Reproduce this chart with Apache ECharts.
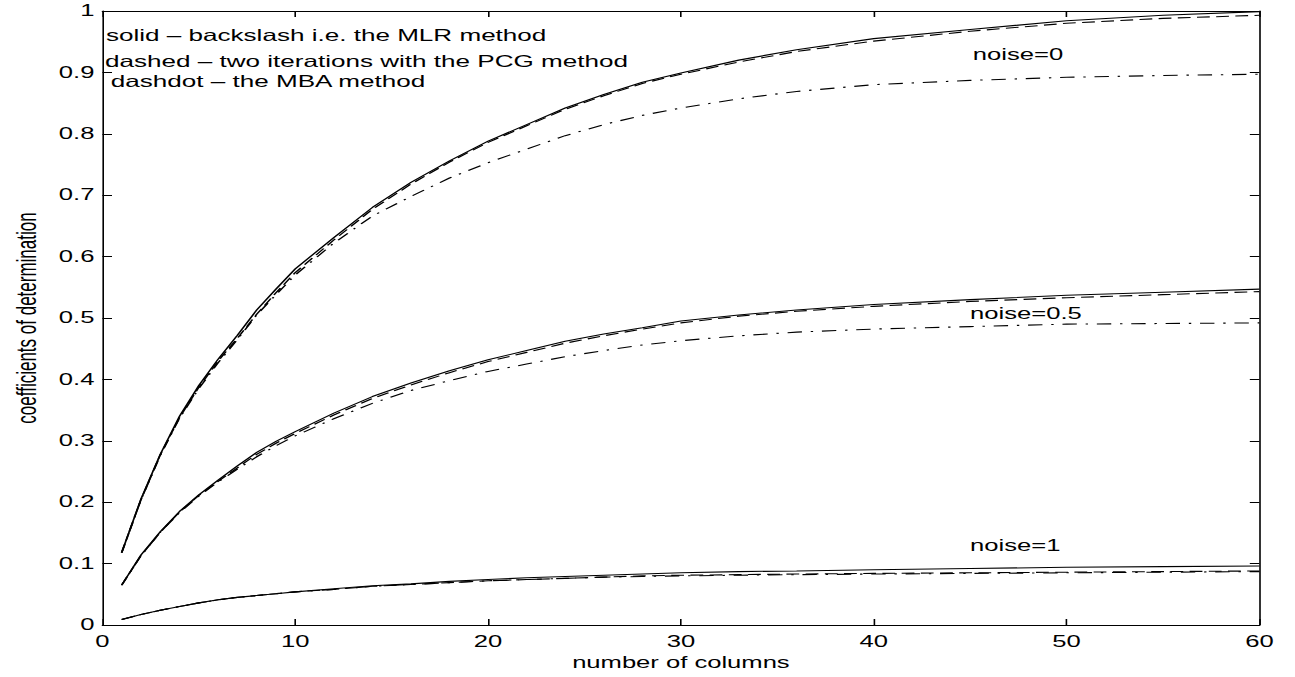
<!DOCTYPE html>
<html>
<head>
<meta charset="utf-8">
<script src="https://cdn.jsdelivr.net/npm/echarts@6/dist/echarts.min.js"></script>
<style>
  html, body { margin:0; padding:0; background:#fff; }
  #wrap { width:1295px; height:677px; overflow:hidden; position:relative; background:#fff; }
  #chart { width:809.375px; height:677px; transform:scaleX(1.6); transform-origin:0 0; }
</style>
</head>
<body>
<div id="wrap"><div id="chart"></div></div>
<script>
// ---- data (number of columns) ----
const columns = [1,2,3,4,5,6,7,8,9,10,12,14,16,18,20,22,24,26,28,30,33,36,40,45,50,55,60];

// noise = 0
const solidNoise0   = [0.118,0.205,0.278,0.340,0.390,0.433,0.472,0.513,0.547,0.580,0.631,0.680,0.721,0.756,0.788,0.815,0.842,0.864,0.884,0.899,0.920,0.937,0.955,0.970,0.984,0.993,0.999];
const dashedNoise0  = [0.118,0.204,0.277,0.338,0.387,0.430,0.467,0.506,0.541,0.574,0.627,0.677,0.718,0.754,0.786,0.813,0.840,0.862,0.882,0.897,0.917,0.934,0.951,0.967,0.980,0.988,0.993];
const dashdotNoise0 = [0.118,0.204,0.276,0.337,0.385,0.427,0.465,0.505,0.538,0.570,0.622,0.666,0.698,0.728,0.753,0.775,0.797,0.815,0.830,0.842,0.857,0.869,0.880,0.887,0.892,0.895,0.897];

// noise = 0.5
const solidNoise05   = [0.065,0.114,0.152,0.185,0.212,0.236,0.259,0.281,0.299,0.315,0.345,0.372,0.394,0.414,0.432,0.447,0.462,0.474,0.484,0.495,0.505,0.513,0.522,0.530,0.537,0.542,0.547];
const dashedNoise05  = [0.065,0.113,0.151,0.184,0.211,0.234,0.256,0.278,0.296,0.312,0.342,0.369,0.391,0.411,0.429,0.444,0.459,0.471,0.482,0.492,0.503,0.511,0.519,0.527,0.533,0.538,0.543];
const dashdotNoise05 = [0.065,0.113,0.151,0.183,0.210,0.233,0.254,0.274,0.292,0.308,0.336,0.361,0.382,0.398,0.413,0.425,0.437,0.447,0.456,0.463,0.471,0.477,0.482,0.486,0.490,0.491,0.492];

// noise = 1
const solidNoise1   = [0.009,0.017,0.024,0.030,0.036,0.041,0.045,0.048,0.051,0.054,0.059,0.064,0.067,0.071,0.074,0.077,0.079,0.081,0.083,0.085,0.087,0.088,0.090,0.092,0.094,0.095,0.096];
const dashedNoise1  = [0.009,0.017,0.024,0.030,0.036,0.041,0.045,0.048,0.051,0.054,0.058,0.063,0.066,0.069,0.072,0.074,0.076,0.078,0.080,0.081,0.082,0.083,0.084,0.085,0.086,0.087,0.088];
const dashdotNoise1 = [0.009,0.017,0.024,0.030,0.036,0.041,0.045,0.048,0.051,0.054,0.058,0.063,0.066,0.069,0.072,0.074,0.076,0.078,0.079,0.080,0.081,0.082,0.083,0.084,0.085,0.086,0.087];

// ticks
const xTickLabels = ['0','10','20','30','40','50','60'];
const yTickLabels = ['0','0.1','0.2','0.3','0.4','0.5','0.6','0.7','0.8','0.9','1'];

// texts
const legendLines = [
  'solid \u2013 backslash i.e. the MLR method',
  'dashed \u2013 two iterations with the PCG method',
  'dashdot \u2013 the MBA method'
];
const noiseLabels = ['noise=0', 'noise=0.5', 'noise=1'];

// ---- chart ----
const FONT = '"Liberation Sans", Arial, Helvetica, sans-serif';
const chart = echarts.init(document.getElementById('chart'), null, { renderer: 'svg' });

const toPairs = arr => columns.map((x, i) => [x, arr[i]]);
const SOLID = 'solid', DASHED = [8, 4], DASHDOT = [9, 5.5, 1.5, 5.5];
function line(name, arr, type) {
  return {
    name, type: 'line', data: toPairs(arr), showSymbol: false, symbol: 'none',
    smooth: false, silent: true, animation: false,
    lineStyle: { color: '#000', width: 1.1, type: type }
  };
}

const axisCommon = {
  axisLine: { show: true, onZero: false, lineStyle: { color: '#000', width: 1 } },
  axisTick: { show: true, inside: true, length: 6, lineStyle: { color: '#000', width: 1 } },
  splitLine: { show: false }
};

const option = {
  backgroundColor: '#fff',
  animation: false,
  grid: { left: 56.875, right: 21.875, top: 11, bottom: 52, containLabel: false },
  xAxis: [
    Object.assign({
      type: 'value', min: 0, max: 60, interval: 10, position: 'bottom',
      axisLabel: { color: '#000', fontSize: 16, fontFamily: FONT, margin: 9,
        formatter: v => xTickLabels[Math.round(v / 10)] },
      name: 'number of columns', nameLocation: 'middle', nameGap: 28,
      nameTextStyle: { color: '#000', fontSize: 16, fontFamily: FONT }
    }, axisCommon),
    Object.assign({
      type: 'value', min: 0, max: 60, interval: 10, position: 'top',
      axisLabel: { show: false }
    }, axisCommon)
  ],
  yAxis: [
    Object.assign({
      type: 'value', min: 0, max: 1, interval: 0.1, position: 'left',
      axisLabel: { color: '#000', fontSize: 16, fontFamily: FONT, margin: 5,
        formatter: v => yTickLabels[Math.round(v * 10)] },
      name: 'coefficients of determination', nameLocation: 'middle', nameGap: 39,
      nameRotate: 90,
      nameTextStyle: { color: '#000', fontSize: 17, fontFamily: FONT }
    }, axisCommon),
    Object.assign({
      type: 'value', min: 0, max: 1, interval: 0.1, position: 'right',
      axisLabel: { show: false }
    }, axisCommon)
  ],
  series: [
    line('dashdot noise=0', dashdotNoise0, DASHDOT),
    line('dashed noise=0', dashedNoise0, DASHED),
    line('solid noise=0', solidNoise0, SOLID),
    line('dashdot noise=0.5', dashdotNoise05, DASHDOT),
    line('dashed noise=0.5', dashedNoise05, DASHED),
    line('solid noise=0.5', solidNoise05, SOLID),
    line('dashdot noise=1', dashdotNoise1, DASHDOT),
    line('dashed noise=1', dashedNoise1, DASHED),
    line('solid noise=1', solidNoise1, SOLID)
  ],
  graphic: [
    { type: 'text', left: 66.2, top: 27, silent: true,
      style: { text: legendLines[0], fill: '#000', fontSize: 16.3, fontFamily: FONT } },
    { type: 'text', left: 65.6, top: 53.5, silent: true,
      style: { text: legendLines[1], fill: '#000', fontSize: 16.3, fontFamily: FONT } },
    { type: 'text', left: 69.2, top: 73.5, silent: true,
      style: { text: legendLines[2], fill: '#000', fontSize: 16.3, fontFamily: FONT } },
    { type: 'text', left: 608, top: 46.5, silent: true,
      style: { text: noiseLabels[0], fill: '#000', fontSize: 16, fontFamily: FONT } },
    { type: 'text', left: 606.3, top: 306, silent: true,
      style: { text: noiseLabels[1], fill: '#000', fontSize: 16, fontFamily: FONT } },
    { type: 'text', left: 606.3, top: 538, silent: true,
      style: { text: noiseLabels[2], fill: '#000', fontSize: 16, fontFamily: FONT } }
  ]
};
chart.setOption(option);
</script>
</body>
</html>
